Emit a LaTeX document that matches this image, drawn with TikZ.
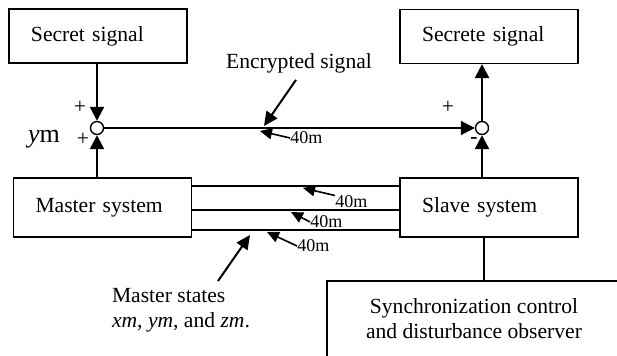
\documentclass[tikz,border=0pt]{standalone}
\usepackage{fontspec}
\setmainfont{Liberation Serif}
\usetikzlibrary{arrows.meta}

\tikzset{
	blk/.style={draw, line width=0.6pt, text width=67pt, inner xsep=11pt, inner ysep=0pt, minimum height=27pt, align=left},
	sumpt/.style={draw, circle, fill=white, line width=0.7pt, minimum size=6.5pt, inner sep=0pt},
	sig/.style={line width=1.2pt, -{Triangle[length=7pt,width=7pt]}},
	ptr/.style={line width=1pt, -{Triangle[length=7pt,width=6.5pt]}},
	tag/.style={line width=0.8pt, -{Triangle[length=6pt,width=5.5pt]}},
	lbl/.style={inner sep=0pt, anchor=west, font=\fontsize{9}{10}\selectfont}
}

\begin{document}
\begin{tikzpicture}[x=0.5pt,y=-0.5pt,font=\fontsize{10.8}{12.5}\selectfont]

\useasboundingbox (0,0) rectangle (617,356);

\def \ys {207.5}

\node[blk] (sec) at (98,36) {Secret signal};
\node[blk] (rec) at (489,36.5) {Secrete signal};
\node[blk, minimum height=29.5pt] (mas) at (102.5,\ys) {Master system};
\node[blk, minimum height=29.5pt] (sla) at (489,\ys) {Slave system};

\node[sumpt] (sl) at (97,128) {};
\node[sumpt] (sr) at (482,128) {};

\draw[sig] (sl |- sec.south) -- (sl);
\draw[sig] (sl |- mas.north) -- (sl);
\draw[sig] (sr |- sla.north) -- (sr);
\draw[sig] (sr) -- (sr |- rec.south);
\draw[sig, line width=1pt] (sl) -- (sr);

\node (p1) at (80,107) {+};
\node (p2) at (83,139) {+};
\node (p3) at (448,107) {+};
\node (mi) at (474,141) {\textbf{-}};
\node[font=\fontsize{13}{13}\selectfont] (ym) at (44,139) {\textit{y}m};

\node (enc) at (299,63) {Encrypted signal};
\draw[ptr] (enc.south -| 296,0) -- (264,126);

\foreach \y/\w in {186/0.6pt,210/1pt,230/0.6pt}{
	\draw[line width=\w] (mas.east |- 0,\y) -- (sla.west |- 0,\y);
}

\node[lbl] (d0) at (290,138) {40m};
\node[lbl] (d1) at (335,202) {40m};
\node[lbl] (d2) at (310,222) {40m};
\node[lbl] (d3) at (297,246) {40m};

\draw[tag] (d0.west) -- (260,131);
\draw[tag] (d1.north west) -- (303,188);
\draw[tag] (d2.west) -- (291,212);
\draw[tag] (d3.west) -- (267,232);

\node[align=left] (mst) at (181,310) {Master states\\\textit{xm}, \textit{ym}, and \textit{zm}.};
\draw[ptr] (mst.north -| 218,0) -- (250,235);

\coordinate (syb) at (484,281);
\draw[line width=0.6pt] (327,360) -- (327,281) -- (620,281);
\draw[line width=0.6pt] (sla.south -| syb) -- (syb);
\node[align=center] (syn) at (474,319) {Synchronization control\\and disturbance observer};

\end{tikzpicture}
\end{document}
